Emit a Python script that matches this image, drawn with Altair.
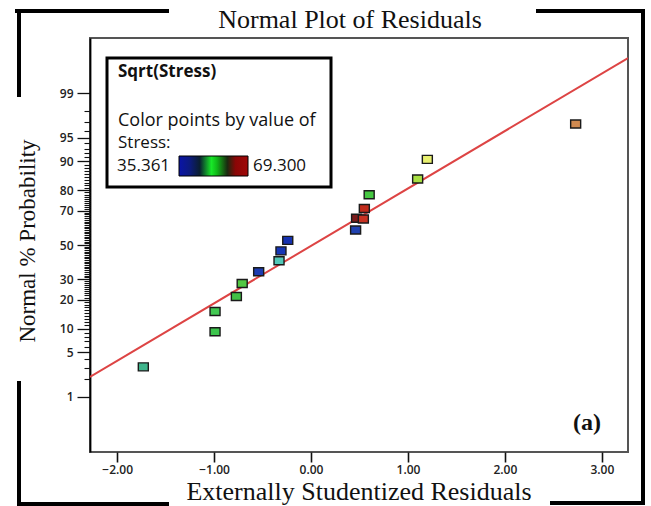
import altair as alt
import pandas as pd
from statistics import NormalDist

nd = NormalDist()

# Externally studentized residuals and their normal probabilities (%)
resid = [-1.73, -0.99, -0.99, -0.77, -0.71, -0.54, -0.33, -0.31, -0.24,
         0.46, 0.47, 0.54, 0.55, 0.60, 1.10, 1.20, 2.73]
prob = [3.1, 9.2, 15.4, 21.5, 27.8, 34.1, 40.5, 46.4, 52.8,
        59.1, 65.9, 65.5, 71.2, 77.9, 84.4, 90.5, 96.8]
# Point colours (by value of Stress)
point_color = ["#3fb58c", "#3cc44c", "#42c852", "#42c046", "#52c842",
               "#1c3cb2", "#52c8b8", "#1636b6", "#1632b0", "#2042b0",
               "#7a1a1a", "#c83222", "#c02a1a", "#46c842", "#a8e042",
               "#e8f070", "#d08a50"]

# Reference line endpoints
fit_resid = [-2.28, 3.27]
fit_prob = [2.17, 99.79]

x_ticks = [-2, -1, 0, 1, 2, 3]
prob_major = [1, 5, 10, 20, 30, 50, 70, 80, 90, 95, 99]
prob_minor = [p for p in range(2, 99) if p not in prob_major]

legend_low, legend_high = "35.361", "69.300"

W, H = 538, 414
x_dom = [-2.28, 3.27]
y_dom = [-3.17, 3.17]


def z(p):
    return nd.inv_cdf(p / 100.0)


pts = pd.DataFrame({"resid": resid, "z": [z(p) for p in prob],
                    "prob": prob, "col": point_color, "order": range(len(resid))})
fit = pd.DataFrame({"resid": fit_resid, "z": [z(p) for p in fit_prob]})
minor = pd.DataFrame({"zm": [z(p) for p in prob_minor]})

z_major = [z(p) for p in prob_major]
z_minor = [z(p) for p in prob_minor]
label_expr = ""
for p, zz in zip(prob_major, z_major):
    label_expr += f"abs(datum.value - ({zz:.6f})) < 0.0005 ? '{p}' : "
label_expr += "''"

xs = alt.Scale(domain=x_dom, nice=False, zero=False)
ys = alt.Scale(domain=y_dom, nice=False, zero=False)
ys_minor = alt.Scale(domain=y_dom, nice=False, zero=False)

x_axis = alt.Axis(values=x_ticks, format=".2f", title=None, grid=False,
                  domain=False, tickSize=10, tickWidth=1.6, tickColor="#111",
                  labelFont="Open Sans", labelFontSize=12, labelFontWeight=600,
                  labelColor="#222", labelPadding=2)
y_axis = alt.Axis(values=z_major, tickCount=50, labelExpr=label_expr, title=None,
                  grid=False, labelOverlap=False, labelBound=False,
                  domain=True, domainColor="#000", domainWidth=1.8,
                  tickSize=13, tickWidth=1.3, tickColor="#111",
                  labelFont="Open Sans", labelFontSize=12, labelFontWeight=600,
                  labelColor="#222", labelPadding=4, orient="left")
# second left axis carrying only the short, unlabeled minor ticks
y_minor_axis = alt.Axis(values=z_minor, tickCount=500, labels=False, title=None,
                        grid=False, domain=False, tickSize=6, tickWidth=1.1,
                        tickColor="#111", orient="left", offset=0)

line = alt.Chart(fit).mark_line(color="#dd4444", strokeWidth=2, clip=True).encode(
    x=alt.X("resid:Q", scale=xs, axis=x_axis),
    y=alt.Y("z:Q", scale=ys, axis=y_axis),
)

minor_layer = alt.Chart(minor).mark_point(opacity=0, size=1).encode(
    y=alt.Y("zm:Q", scale=ys_minor, axis=y_minor_axis),
)

points = alt.Chart(pts).mark_point(
    shape="M -1.25 -1 L 1.25 -1 L 1.25 1 L -1.25 1 Z", size=64,
    filled=True, opacity=1, stroke="#1a1a1a", strokeWidth=1.4,
).encode(
    x=alt.X("resid:Q", scale=xs),
    y=alt.Y("z:Q", scale=ys),
    fill=alt.Fill("col:N", scale=None),
    order="order:Q",
)


def one():
    return alt.Chart(pd.DataFrame({"k": [0]}))


def text(t, x, y, size, font="Open Sans", weight="normal", align="left",
         angle=0, baseline="middle"):
    kw = dict(text=t, font=font, fontSize=size, fontWeight=weight,
              align=align, baseline=baseline, color="#111")
    if angle:
        kw["angle"] = angle
    return one().mark_text(**kw).encode(x=alt.value(x), y=alt.value(y))


def seg(x1, y1, x2, y2, w=4):
    return one().mark_rule(color="#000", strokeWidth=w, strokeCap="square").encode(
        x=alt.value(x1), y=alt.value(y1), x2=alt.value(x2), y2=alt.value(y2))


# Legend panel
legend_box = one().mark_rect(fill="white", stroke="#000", strokeWidth=3).encode(
    x=alt.value(17), x2=alt.value(241), y=alt.value(20), y2=alt.value(149))
grad = alt.LinearGradient(
    gradient="linear", x1=0, x2=1, y1=0, y2=0,
    stops=[alt.GradientStop(color="#0a14a8", offset=0),
           alt.GradientStop(color="#0c1a80", offset=0.15),
           alt.GradientStop(color="#0a1e30", offset=0.3),
           alt.GradientStop(color="#18e828", offset=0.47),
           alt.GradientStop(color="#10b818", offset=0.55),
           alt.GradientStop(color="#1a2a10", offset=0.7),
           alt.GradientStop(color="#8a0606", offset=0.82),
           alt.GradientStop(color="#a00808", offset=1)])
legend_bar = one().mark_rect(color=grad, stroke="#000", strokeWidth=1).encode(
    x=alt.value(89), x2=alt.value(158), y=alt.value(118), y2=alt.value(138))

main = alt.layer(line, points)

layers = [
    main, minor_layer,
    legend_box, legend_bar,
    text("Sqrt(Stress)", 28, 34, 17, weight="bold"),
    text("Color points by value of", 28, 83, 18),
    text("Stress:", 28, 105, 17),
    text(legend_low, 27, 128, 17),
    text(legend_high, 163, 128, 17),
    text("Normal Plot of Residuals", 260, -18, 26, font="Liberation Serif", align="center"),
    text("Externally Studentized Residuals", 269, 462, 26, font="Liberation Serif",
         align="center", baseline="alphabetic"),
    text("Normal % Probability", -62, 203, 23, font="Liberation Serif", align="center", angle=270),
    text("(a)", 497, 385, 24, font="Liberation Serif", weight="bold", align="center"),
    # outer bracket frame
    seg(-73, -27, 77, -27), seg(-71, -27, -71, 57),
    seg(448, -27, 553, -27), seg(553, -27, 553, 465),
    seg(462, 465, 553, 465),
    seg(-71, 466, 77, 466), seg(-71, 345, -71, 466),
]

chart = alt.layer(*layers).resolve_scale(y="independent").properties(
    width=W, height=H,
    autosize=alt.AutoSizeParams(type="none"),
    padding={"left": 90, "top": 38, "right": 23, "bottom": 54},
    background="white",
).configure_view(stroke="#555", strokeWidth=2)

chart.save("out.html", embed_options={"renderer": "svg", "actions": False})
